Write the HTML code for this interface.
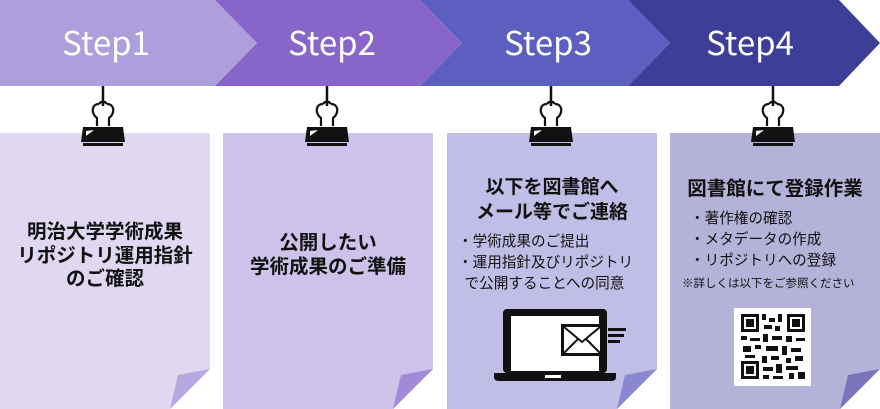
<!DOCTYPE html><html><head><meta charset="utf-8"><style>
body{margin:0;width:880px;height:409px;overflow:hidden;background:#fff;font-family:"Liberation Sans","Noto Sans CJK JP",sans-serif;position:relative}
.t{position:absolute;text-align:center;font-weight:bold;color:#111;white-space:nowrap;font-family:"Noto Sans CJK JP",sans-serif}
.s{position:absolute;color:#111;font-size:14.6px;line-height:21px;white-space:nowrap;font-family:"Noto Sans CJK JP",sans-serif}
</style></head><body>
<svg width="880" height="409" style="position:absolute;left:0;top:0">
<polygon points="0,0 215,0 257,43 215,86 0,86" fill="#ad9fdb"/>
<polygon points="215,0 420,0 462,43 420,86 215,86 257,43" fill="#8865c9"/>
<polygon points="420,0 628,0 670,43 628,86 420,86 462,43" fill="#5c5fc0"/>
<polygon points="628,0 839,0 880,43 839,86 628,86 670,43" fill="#3d3e97"/>
<g font-family="Noto Sans CJK JP, sans-serif" font-size="33" fill="#fff" text-anchor="middle">
<text x="106" y="55">Step1</text><text x="332" y="55">Step2</text><text x="548" y="55">Step3</text><text x="750" y="55">Step4</text></g>
<g>
<polygon points="0,133 210,133 210,369 170,409 0,409" fill="#e0d8f1"/><polygon points="210,369 170,409 178,375" fill="#b7a8e0"/>
<polygon points="223,133 433,133 433,369 393,409 223,409" fill="#cdc2ea"/><polygon points="433,369 393,409 401,375" fill="#a38ad8"/>
<polygon points="447,133 657,133 657,369 617,409 447,409" fill="#c0bde6"/><polygon points="657,369 617,409 625,375" fill="#8a87d0"/>
<polygon points="670,133 880,133 880,369 840,409 670,409" fill="#b4b2d8"/><polygon points="880,369 840,409 848,375" fill="#7975b8"/>
</g>
<defs><g id="clip">
<line x1="0" y1="86" x2="0" y2="106" stroke="#111" stroke-width="2.5"/>
<path d="M-4,104 C-12,104 -12,114 -6,118 L-6,126 M4,104 C12,104 12,114 6,118 L6,126 M-4,104 C-2,101 2,101 4,104" fill="none" stroke="#111" stroke-width="2.2"/>
<polygon points="-20,127 20,127 22,142 -22,142" fill="#111"/>
<rect x="-20" y="143" width="40" height="3" fill="#111"/>
<polygon points="-17,131 -9,130 -17,136" fill="#fff"/>
</g></defs>
<use href="#clip" x="103"/><use href="#clip" x="327"/><use href="#clip" x="551"/><use href="#clip" x="773"/>
<rect x="503" y="309" width="104" height="64" rx="4" fill="#111"/>
<rect x="511" y="316" width="88" height="55" fill="#fff"/>
<path d="M494,373 H616 V377 Q616,381 611,381 H499 Q494,381 494,377Z" fill="#111"/>
<rect x="545" y="375" width="16" height="3" fill="#fff"/>
<rect x="561" y="324" width="42" height="32" fill="#111"/>
<rect x="564" y="327" width="36" height="26" fill="#fff"/>
<path d="M564,327 L582,342 L600,327 M564,353 L578,339 M600,353 L586,339" stroke="#111" stroke-width="2" fill="none"/>
<rect x="608" y="328" width="18" height="3" fill="#111"/><rect x="608" y="334" width="16" height="3" fill="#111"/><rect x="608" y="340" width="12" height="3" fill="#111"/>
<rect x="734" y="308" width="77" height="78" fill="#fff"/>
<g fill="#111">
<rect x="741" y="314" width="18" height="18"/><rect x="744" y="317" width="12" height="12" fill="#fff"/><rect x="746" y="319" width="8" height="8"/>
<rect x="787" y="314" width="18" height="18"/><rect x="790" y="317" width="12" height="12" fill="#fff"/><rect x="792" y="319" width="8" height="8"/>
<rect x="741" y="361" width="18" height="18"/><rect x="744" y="364" width="12" height="12" fill="#fff"/><rect x="746" y="366" width="8" height="8"/>
<rect x="762" y="314" width="4" height="6"/><rect x="769" y="318" width="6" height="4"/><rect x="778" y="314" width="4" height="8"/><rect x="764" y="325" width="8" height="4"/><rect x="775" y="326" width="5" height="5"/>
<rect x="741" y="336" width="6" height="4"/><rect x="750" y="338" width="10" height="3"/><rect x="763" y="334" width="5" height="8"/><rect x="772" y="336" width="10" height="4"/><rect x="786" y="336" width="6" height="6"/><rect x="796" y="338" width="9" height="3"/>
<rect x="743" y="346" width="8" height="6"/><rect x="755" y="345" width="6" height="4"/><rect x="766" y="346" width="12" height="5"/><rect x="782" y="346" width="5" height="9"/><rect x="791" y="348" width="10" height="4"/>
<rect x="745" y="355" width="10" height="3"/><rect x="762" y="356" width="5" height="7"/><rect x="771" y="356" width="8" height="4"/><rect x="795" y="356" width="8" height="5"/><rect x="786" y="358" width="5" height="5"/>
<rect x="763" y="367" width="10" height="4"/><rect x="776" y="364" width="6" height="9"/><rect x="786" y="366" width="12" height="4"/><rect x="763" y="375" width="6" height="4"/><rect x="773" y="376" width="10" height="3"/><rect x="789" y="373" width="5" height="6"/><rect x="798" y="372" width="7" height="7"/>
</g>
</svg>
<div class="t" style="left:0;width:210px;top:218px;font-size:19.5px;line-height:23.5px">明治大学学術成果<br>リポジトリ運用指針<br>のご確認</div>
<div class="t" style="left:223px;width:210px;top:229px;font-size:19.5px;line-height:23.5px">公開したい<br>学術成果のご準備</div>
<div class="t" style="left:447px;width:210px;top:173px;font-size:19px;line-height:25px">以下を図書館へ<br>メール等でご連絡</div>
<div class="s" style="left:458px;top:230px">・学術成果のご提出<br>・運用指針及びリポジトリ<br>&nbsp;&nbsp;で公開することへの同意</div>
<div class="t" style="left:670px;width:210px;top:174px;font-size:19.5px;line-height:25px">図書館にて登録作業</div>
<div class="s" style="left:690px;top:207px">・著作権の確認<br>・メタデータの作成<br>・リポジトリへの登録</div>
<div class="s" style="left:682px;top:274px;font-size:11.5px;line-height:18px">※詳しくは以下をご参照ください</div>
</body></html>
